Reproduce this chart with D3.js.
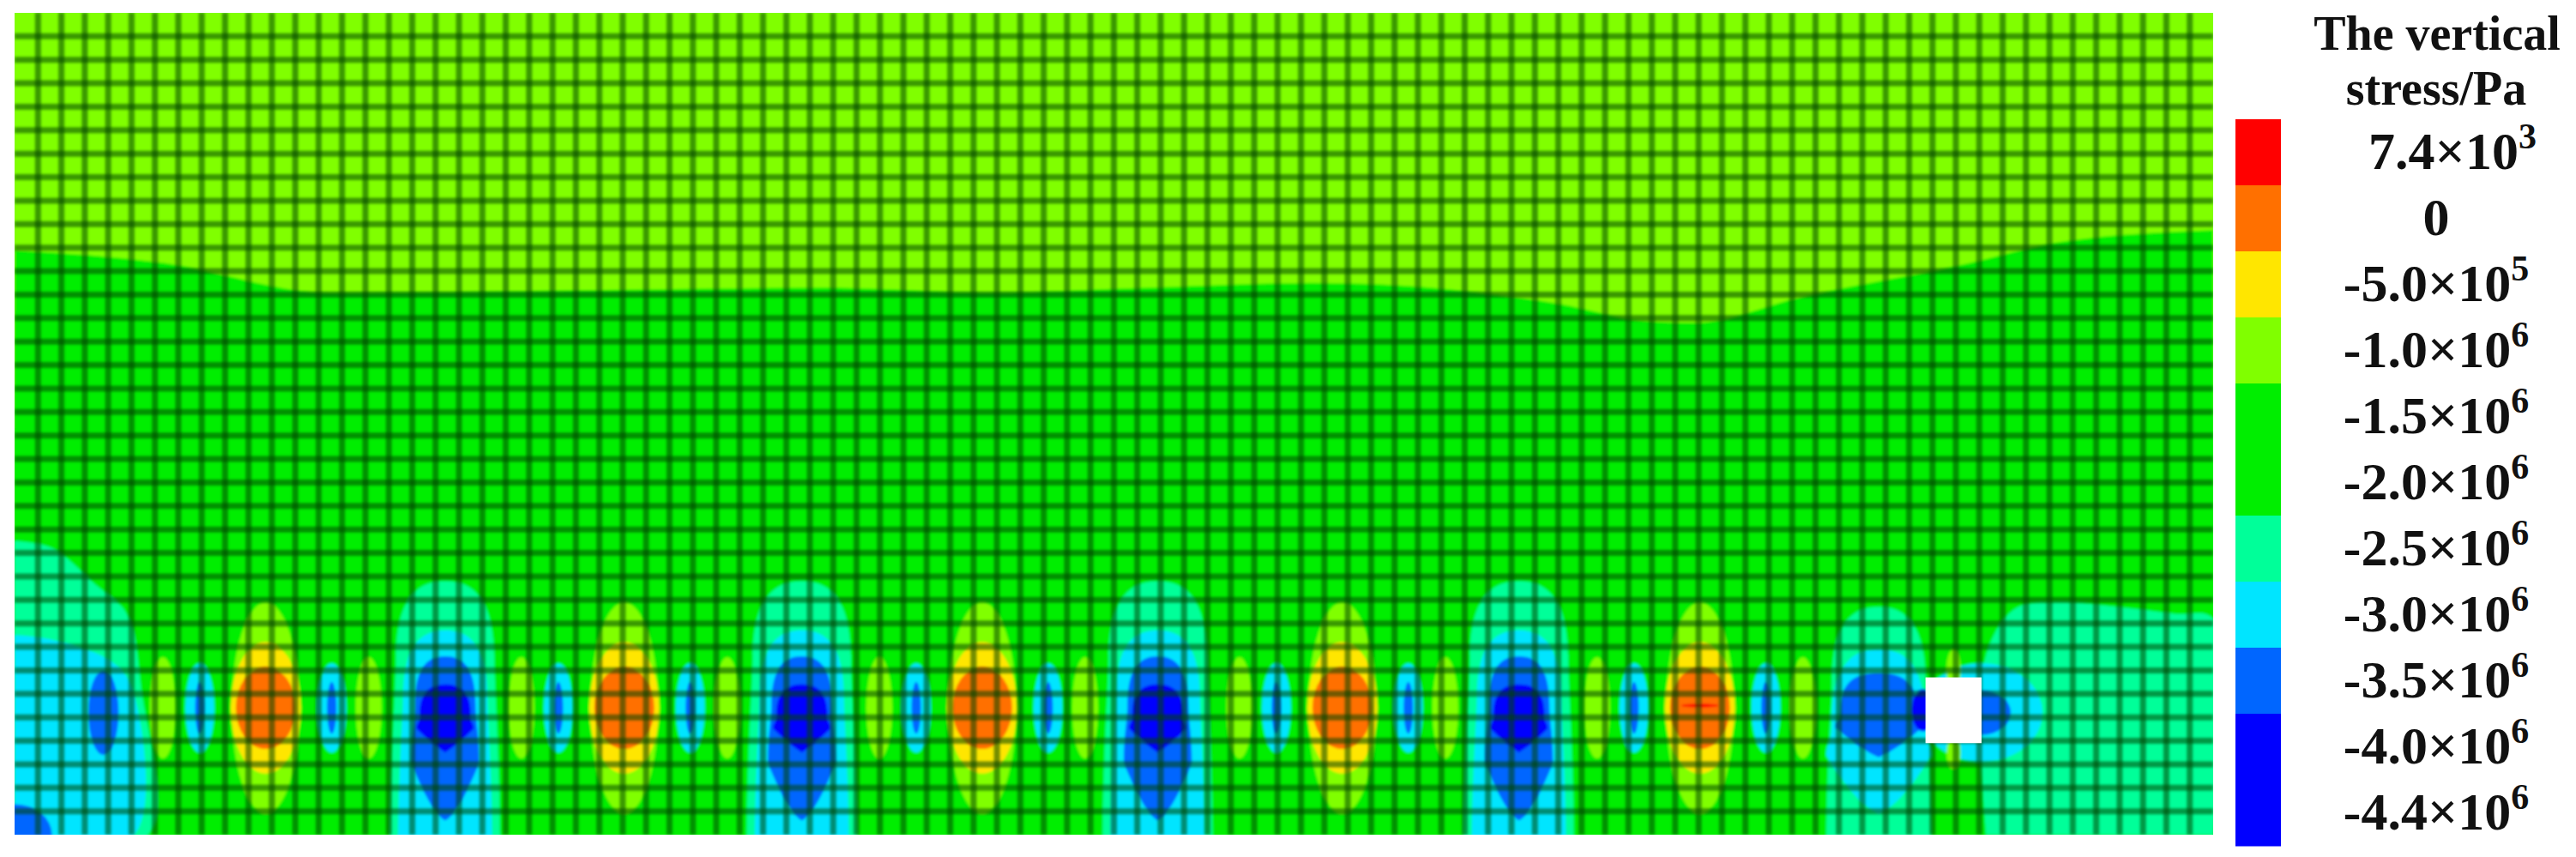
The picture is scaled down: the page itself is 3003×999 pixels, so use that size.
<!DOCTYPE html>
<html>
<head>
<meta charset="utf-8">
<script src="https://cdn.jsdelivr.net/npm/d3@7"></script>
<style>
  body { margin: 0; background: #fff; }
  svg { display: block; }
</style>
</head>
<body>
<svg id="chart" width="3003" height="999"></svg>
<script>
// legend levels (Pa) and band colours, top to bottom
const levels = [7.4e3, 0, -5.0e5, -1.0e6, -1.5e6, -2.0e6, -2.5e6, -3.0e6, -3.5e6, -4.0e6, -4.4e6];
const levelLabels = [["7.4", "3"], ["0", ""], ["-5.0", "5"], ["-1.0", "6"], ["-1.5", "6"], ["-2.0", "6"], ["-2.5", "6"], ["-3.0", "6"], ["-3.5", "6"], ["-4.0", "6"], ["-4.4", "6"]];
const bandColors = ["#ff0000", "#ff7000", "#ffe600", "#80ff00", "#00ee00", "#00ee00", "#00ff99", "#00e5ff", "#0066ff", "#0000ff", "#0000ff"];

// mesh size (elements)
const nCols = 94, nRows = 35;

// boundary between -1.0e6 and -1.5e6 zones [x, y] in element units
const upperBoundary = [[0, 10.1], [6.4, 10.65], [13.4, 11.9], [27.5, 11.77], [34.5, 11.7], [41.5, 11.9], [48.5, 11.7], [55.6, 11.5], [62.6, 11.9], [66.1, 12.4], [69.6, 13.1], [71.7, 13.2], [76.6, 12.05], [83.6, 10.65], [87.2, 9.8], [94, 9.25]];

// left edge zones
const leftTeal = [[0, 22.5], [1.6, 22.8], [3.4, 24.3], [4.8, 25.6], [5.4, 28.7], [5.7, 35], [0, 35]];
const leftCyan = [[0, 26.5], [1.6, 26.7], [4.1, 27.6], [5.0, 28.7], [5.1, 35], [0, 35]];
// right edge zone
const rightTeal = [[84.3, 35], [84.2, 27.7], [85.5, 25.4], [87.5, 25.1], [89.9, 25.3], [92.4, 25.6], [94, 25.8], [94, 35]];

// coal pillars (compression peaks) and stress relief zones
const reliefCenters = [10.74, 26.07, 41.37, 56.77, 72.06];
const pillarCenters = [18.41, 33.66, 48.88, 64.32];
const rowCenter = 29.6;

// ellipse sets: level, dx, rx, ry
const reliefLevels = [
  { level: -1.0e6, dx: 0, rx: 1.45, ry: 4.5 },
  { level: -5.0e5, dx: 0, rx: 1.5, ry: 2.8 },
  { level: 0, dx: 0, rx: 1.28, ry: 1.75 },
  { level: -3.0e6, dx: -2.82, rx: 0.62, ry: 1.9 },
  { level: -3.0e6, dx: 2.82, rx: 0.62, ry: 1.9 },
  { level: -3.5e6, dx: -2.82, rx: 0.2, ry: 1.1 },
  { level: -3.5e6, dx: 2.82, rx: 0.2, ry: 1.1 },
  { level: -1.0e6, dx: -4.4, rx: 0.55, ry: 2.15 },
  { level: -1.0e6, dx: 4.4, rx: 0.55, ry: 2.15 }
];
// pillar columns: level, half width, top, bottom
const pillarLevels = [
  { level: -2.5e6, hw: 2.1, top: 24.2, bottom: 35 },
  { level: -3.0e6, hw: 1.8, top: 26.3, bottom: 35 },
  { level: -3.5e6, hw: 1.3, top: 27.4, bottom: 34.4 },
  { level: -4.0e6, hw: 1.1, top: 28.6, bottom: 31.5 }
];
const lastPillar = { x: 79.7, levels: [
  { level: -2.5e6, hw: 2.0, top: 25.3, bottom: 35 },
  { level: -3.0e6, hw: 2.0, top: 27.1, bottom: 34.1 },
  { level: -3.5e6, hw: 1.65, top: 28.1, bottom: 31.7 }
] };
// extra ellipses: cx, cy, level, rx, ry
const extraSpots = [
  [3.8, 29.8, -3.5e6, 0.65, 1.8],
  [0, 35, -3.5e6, 1.6, 1.3],
  [84.1, 29.8, -3.0e6, 2.6, 2.1],
  [84.1, 29.8, -3.5e6, 1.25, 0.95],
  [81.6, 29.7, -4.0e6, 0.5, 0.9],
  [82.9, 28.0, -1.0e6, 0.3, 0.9],
  [82.9, 31.5, -1.0e6, 0.3, 0.7],
  [72.06, 29.5, 7.4e3, 0.8, 0.08]
];
// excavated roadway (blank cell)
const opening = { x0: 81.7, x1: 84.1, y0: 28.3, y1: 31.1 };

const svg = d3.select("#chart");
const plot = { left: 17, right: 2580, top: 15, bottom: 973 };
const x = d3.scaleLinear().domain([0, nCols]).range([plot.left, plot.right]);
const y = d3.scaleLinear().domain([0, nRows]).range([plot.top, plot.bottom]);
const color = d3.scaleOrdinal(levels, bandColors);
const sx = v => x(v) - x(0), sy = v => y(v) - y(0);

const defs = svg.append("defs");
defs.append("clipPath").attr("id", "plotClip").append("rect")
  .attr("x", plot.left).attr("y", plot.top).attr("width", plot.right - plot.left).attr("height", plot.bottom - plot.top);
defs.append("filter").attr("id", "soft").append("feGaussianBlur").attr("stdDeviation", 1.8);
defs.append("filter").attr("id", "meshBlur").append("feGaussianBlur").attr("stdDeviation", 1.5);

const field = svg.append("g").attr("clip-path", "url(#plotClip)");
const bands = field.append("g").attr("filter", "url(#soft)");
const line = d3.line().x(d => x(d[0])).y(d => y(d[1])).curve(d3.curveMonotoneX);
const poly = d3.line().x(d => x(d[0])).y(d => y(d[1])).curve(d3.curveCatmullRom);

bands.append("rect").attr("x", plot.left - 5).attr("y", plot.top - 5)
  .attr("width", plot.right - plot.left + 10).attr("height", plot.bottom - plot.top + 10)
  .attr("fill", color(-1.0e6));
bands.append("path")
  .attr("d", line(upperBoundary) + `L${x(nCols) + 5},${y(nRows) + 5}L${x(0) - 5},${y(nRows) + 5}Z`)
  .attr("fill", color(-1.5e6));
bands.append("path").attr("d", poly(leftTeal) + "Z").attr("fill", color(-2.5e6));
bands.append("path").attr("d", poly(leftCyan) + "Z").attr("fill", color(-3.0e6));
bands.append("path").attr("d", poly(rightTeal) + "Z").attr("fill", color(-2.5e6));

// dome-topped column, widening slightly downward, pointed if it ends above the base
function column(cx, l) {
  const p = d3.path();
  const domeH = Math.min(l.hw * 1.6, (l.bottom - l.top) * 0.45);
  const shoulder = l.top + domeH;
  const wb = l.hw * 1.12;
  const open = l.bottom >= nRows;
  const foot = open ? nRows + 1 : l.bottom - (l.bottom - l.top) * 0.35;
  p.moveTo(x(cx - wb), y(foot));
  p.bezierCurveTo(x(cx - wb), y((foot + shoulder) / 2), x(cx - l.hw), y(shoulder + domeH * 0.3), x(cx - l.hw), y(shoulder));
  p.bezierCurveTo(x(cx - l.hw), y(l.top + domeH * 0.2), x(cx - l.hw * 0.55), y(l.top), x(cx), y(l.top));
  p.bezierCurveTo(x(cx + l.hw * 0.55), y(l.top), x(cx + l.hw), y(l.top + domeH * 0.2), x(cx + l.hw), y(shoulder));
  p.bezierCurveTo(x(cx + l.hw), y(shoulder + domeH * 0.3), x(cx + wb), y((foot + shoulder) / 2), x(cx + wb), y(foot));
  if (open) {
    p.lineTo(x(cx - wb), y(foot));
  } else {
    p.quadraticCurveTo(x(cx + wb * 0.4), y(l.bottom - 0.3), x(cx), y(l.bottom));
    p.quadraticCurveTo(x(cx - wb * 0.4), y(l.bottom - 0.3), x(cx - wb), y(foot));
  }
  p.closePath();
  return p.toString();
}

pillarCenters.forEach(cx => {
  pillarLevels.forEach(l => bands.append("path").attr("d", column(cx, l)).attr("fill", color(l.level)));
});
lastPillar.levels.forEach(l => bands.append("path").attr("d", column(lastPillar.x, l)).attr("fill", color(l.level)));

reliefCenters.forEach(cx => {
  reliefLevels.forEach(l => bands.append("ellipse")
    .attr("cx", x(cx + l.dx)).attr("cy", y(rowCenter))
    .attr("rx", sx(l.rx)).attr("ry", sy(l.ry)).attr("fill", color(l.level)));
});
extraSpots.forEach(([cx, cy, lv, rx, ry]) => bands.append("ellipse")
  .attr("cx", x(cx)).attr("cy", y(cy)).attr("rx", sx(rx)).attr("ry", sy(ry)).attr("fill", color(lv)));

// mesh lines
const mesh = field.append("g").attr("filter", "url(#meshBlur)")
  .attr("stroke", "#004400").attr("stroke-opacity", 0.55).attr("stroke-width", 7);
mesh.selectAll("line.v").data(d3.range(1, nCols)).join("line").attr("class", "v")
  .attr("x1", d => x(d)).attr("x2", d => x(d))
  .attr("y1", y(0)).attr("y2", y(nRows));
mesh.selectAll("line.h").data(d3.range(1, nRows)).join("line").attr("class", "h")
  .attr("x1", x(0)).attr("x2", x(nCols)).attr("y1", d => y(d)).attr("y2", d => y(d));

field.append("rect").attr("x", x(opening.x0)).attr("y", y(opening.y0))
  .attr("width", x(opening.x1) - x(opening.x0)).attr("height", y(opening.y1) - y(opening.y0))
  .attr("fill", "#fff");

// colour bar
const bar = { x: 2606, w: 53, top: 139, h: 77 };
svg.append("g").selectAll("rect").data(levels).join("rect")
  .attr("x", bar.x).attr("y", (d, i) => bar.top + i * bar.h)
  .attr("width", bar.w).attr("height", bar.h + 0.5).attr("fill", d => color(d));

const font = "'Liberation Serif', 'Times New Roman', serif";
const lab = svg.append("g").attr("font-family", font).attr("font-weight", "bold")
  .attr("font-size", 62).attr("fill", "#111").attr("text-anchor", "middle");
levelLabels.forEach(([m, e], i) => {
  const t = lab.append("text").attr("x", i === 0 ? 2859 : 2840).attr("y", bar.top + i * bar.h + 58);
  if (!e) { t.text(m); return; }
  t.append("tspan").text(m + "\u00d710");
  t.append("tspan").attr("dy", -24).attr("font-size", 42).text(e);
});
const title = svg.append("g").attr("font-family", font).attr("font-weight", "bold")
  .attr("font-size", 56).attr("fill", "#111").attr("text-anchor", "middle");
title.append("text").attr("x", 2841).attr("y", 58).text("The vertical");
title.append("text").attr("x", 2840).attr("y", 122).text("stress/Pa");
</script>
</body>
</html>
